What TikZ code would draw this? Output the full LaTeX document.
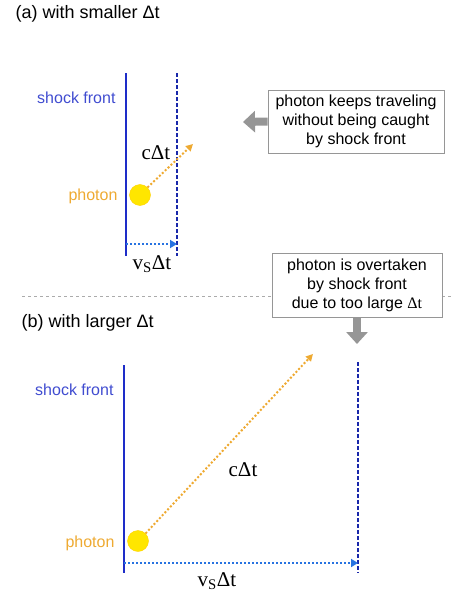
\documentclass[tikz,border=0pt]{standalone}
\usepackage{fontspec}
\setmainfont{Liberation Sans}
\newfontfamily\seriffont{Liberation Serif}
\usetikzlibrary{arrows.meta, positioning}

\definecolor{shockblue}{RGB}{30,45,200}
\definecolor{frontblue}{RGB}{25,40,170}
\definecolor{moveblue}{RGB}{40,115,225}
\definecolor{photonorange}{RGB}{238,170,50}
\definecolor{photonyellow}{RGB}{255,230,0}
\definecolor{notegray}{RGB}{150,150,150}

\begin{document}
\begin{tikzpicture}[x=1pt, y=-1pt,
    paneltitle/.style={font=\fontsize{18}{21}\selectfont, anchor=west},
    sidelabel/.style={font=\fontsize{16}{19}\selectfont, anchor=east},
    quantity/.style={font=\seriffont\fontsize{21}{24}\selectfont},
    photon/.style={circle, minimum size=21pt, inner sep=0pt, fill=photonyellow, draw=photonyellow!80!orange, thin},
    note/.style={draw=notegray, fill=white, thick, align=center, font=\fontsize{16}{19}\selectfont, inner sep=0pt},
    oldfront/.style={shockblue, line width=2.4pt},
    newfront/.style={frontblue, line width=2.4pt, dash pattern=on 3.5pt off 2.5pt},
    photonpath/.style={photonorange, line width=2pt, dotted, -{Triangle[length=7pt, width=7pt]}},
    frontshift/.style={moveblue, line width=2pt, dotted, -{Triangle[length=7pt, width=8pt]}},
    hint/.style={notegray, line width=8pt, -{Triangle[length=12pt, width=21pt]}}]
    \useasboundingbox (0,0) rectangle (454,594);

    % (a) smaller time step
    \def\xl{126}     % shock front at t
    \def\xr{177}     % shock front at t+dt
    \node[paneltitle] (titleA) at (12,14) {(a) with smaller Δt};
    \draw[oldfront] (\xl,73) -- (\xl,256);
    \draw[newfront] (\xr,73) -- (\xr,256);
    \node[sidelabel, text=shockblue!85!white] (shockA) at (119,98) {shock front};
    \node[photon] (photA) at (140,195) {};
    \node[sidelabel, text=photonorange] (photLabelA) at (121,196) {photon};
    \coordinate (tipA) at (193,144);
    \draw[photonpath] (photA.north east) -- (tipA);
    \node[quantity] (cdtA) at (156,153) {cΔt};
    \coordinate (fromA) at (\xl,244);
    \coordinate (toA) at (\xr,244);
    \draw[frontshift] (fromA) -- (toA);
    \node[quantity] (vdtA) at (152,264) {v\textsubscript{S}Δt};
    \node[note, minimum width=176pt, minimum height=63pt] (noteA) at (356,121.5)
        {photon keeps traveling\\without being caught\\by shock front};
    \coordinate (hintA) at (243,122);
    \draw[hint] (noteA.west) -- (hintA);

    % separator
    \coordinate (sepL) at (22,296);
    \coordinate (sepR) at (454,296);
    \draw[notegray!80, thick, dash pattern=on 3pt off 3pt] (sepL) -- (sepR);

    % (b) larger time step
    \def\xl{124}
    \def\xr{358}
    \node[note, minimum width=170pt, minimum height=64pt] (noteB) at (357,285)
        {photon is overtaken\\by shock front\\due to too large {\seriffont Δt}};
    \coordinate (hintB) at (357,344);
    \draw[hint] (noteB.south) -- (hintB);
    \node[paneltitle] (titleB) at (18,323) {(b) with larger Δt};
    \draw[oldfront] (\xl,365) -- (\xl,573);
    \draw[newfront] (\xr,362) -- (\xr,573);
    \node[sidelabel, text=shockblue!85!white] (shockB) at (117,390) {shock front};
    \node[photon] (photB) at (138,541) {};
    \node[sidelabel, text=photonorange] (photLabelB) at (118,543) {photon};
    \coordinate (tipB) at (313,354);
    \draw[photonpath] (photB.north east) -- (tipB);
    \node[quantity] (cdtB) at (243,470) {cΔt};
    \coordinate (fromB) at (\xl,563);
    \coordinate (toB) at (\xr,563);
    \draw[frontshift] (fromB) -- (toB);
    \node[quantity] (vdtB) at (217,581) {v\textsubscript{S}Δt};
\end{tikzpicture}
\end{document}
